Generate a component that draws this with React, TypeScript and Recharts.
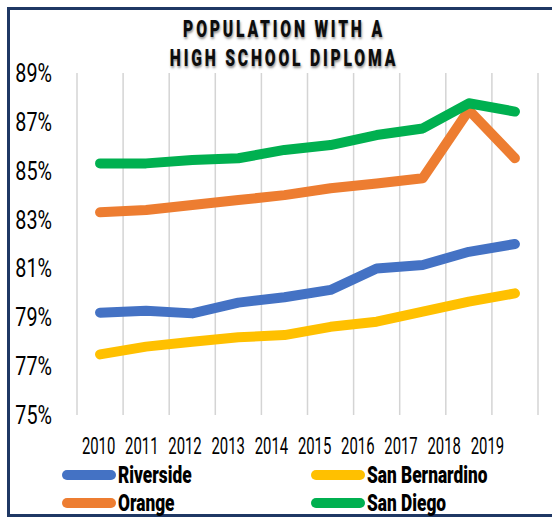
import React from 'react';
import { LineChart, Line, XAxis, YAxis, CartesianGrid, Legend } from 'recharts';

const years = ['2010', '2011', '2012', '2013', '2014', '2015', '2016', '2017', '2018', '2019'];
const riverside = [79.19, 79.27, 79.16, 79.6, 79.82, 80.12, 81.0, 81.14, 81.68, 82.0];
const orange = [83.3, 83.39, 83.6, 83.8, 84.0, 84.28, 84.48, 84.69, 87.48, 85.51];
const sanBernardino = [77.48, 77.8, 78.0, 78.18, 78.27, 78.61, 78.82, 79.23, 79.64, 79.98];
const sanDiego = [85.3, 85.3, 85.44, 85.51, 85.85, 86.05, 86.46, 86.73, 87.76, 87.42];
const yTicks = [75, 77, 79, 81, 83, 85, 87, 89];
const titleLines = ['POPULATION WITH A', 'HIGH SCHOOL DIPLOMA'];

const series = [
  { key: 'riverside', name: 'Riverside', color: '#4472C4', values: riverside },
  { key: 'orange', name: 'Orange', color: '#ED7D31', values: orange },
  { key: 'sanBernardino', name: 'San Bernardino', color: '#FFC000', values: sanBernardino },
  { key: 'sanDiego', name: 'San Diego', color: '#00B050', values: sanDiego },
];

const data = years.map((year, i) => {
  const row: Record<string, any> = { year };
  series.forEach((s) => {
    row[s.key] = s.values[i];
  });
  return row;
});

const FONT = "Roboto, 'DejaVu Sans Condensed', sans-serif";

const XTick = (props: any) => {
  const { x, y, payload } = props;
  return (
    <text
      transform={`translate(${x},${y + 17}) scale(0.62,1)`}
      textAnchor="middle"
      fontFamily={FONT}
      fontSize={24}
      fill="#000"
    >
      {payload.value}
    </text>
  );
};

const YTick = (props: any) => {
  const { x, y, payload } = props;
  return (
    <text
      transform={`translate(${x},${y + 9}) scale(0.76,1)`}
      textAnchor="end"
      fontFamily={FONT}
      fontSize={26}
      fill="#000"
    >
      {`${payload.value}%`}
    </text>
  );
};

const LegendContent = () => (
  <div
    style={{
      display: 'grid',
      gridTemplateRows: '28px 28px',
      gridTemplateColumns: '249px 200px',
      gridAutoFlow: 'column',
      paddingLeft: 62,
      fontFamily: FONT,
      fontWeight: 900,
      fontSize: 24,
      color: '#000',
    }}
  >
    {series.map((s) => (
      <div key={s.key} style={{ display: 'flex', alignItems: 'center', height: 28, whiteSpace: 'nowrap' }}>
        <span
          style={{
            display: 'inline-block',
            width: 54,
            height: 10,
            borderRadius: 5,
            background: s.color,
            marginRight: 2,
            flex: 'none',
          }}
        />
        <span style={{ display: 'inline-block', transform: 'scaleX(0.72)', transformOrigin: 'left center' }}>{s.name}</span>
      </div>
    ))}
  </div>
);

export default function App() {
  return (
    <div style={{ position: 'absolute', left: 0, top: 0, width: 552, height: 518, overflow: 'hidden', background: '#fff' }}>
      <div
        style={{
          position: 'absolute',
          left: 7,
          top: 7,
          width: 560,
          height: 504,
          border: '3px solid #1F3864',
          boxSizing: 'content-box',
        }}
      />
      <div
        style={{
          position: 'absolute',
          left: 84,
          width: 400,
          top: 14,
          textAlign: 'center',
          fontFamily: FONT,
          fontWeight: 900,
          fontSize: 24,
          lineHeight: '28.2px',
          letterSpacing: 4.3,
          color: '#0d0d0d',
          textShadow: '1px 2px 3px rgba(0,0,0,0.45)',
          transform: 'scale(0.653, 1.03)',
          transformOrigin: '200px 0',
          whiteSpace: 'nowrap',
          zIndex: 2,
        }}
      >
        {titleLines.map((t) => (
          <div key={t} style={{ height: 28.2 }}>{t}</div>
        ))}
      </div>
      <LineChart
        width={552}
        height={518}
        data={data}
        margin={{ top: 73, right: 14, left: 0, bottom: 63 }}
        style={{ position: 'absolute', left: 0, top: 0 }}
      >
        <CartesianGrid
          xAxisId="pts"
          horizontal={false}
          stroke="#D4D4D4"
          strokeWidth={1.5}
          verticalCoordinatesGenerator={({ offset }: any) =>
            Array.from({ length: years.length + 1 }, (_, i) => offset.left + (offset.width * i) / years.length)
          }
        />
        <XAxis xAxisId="pts" dataKey="year" scale="band" hide />
        <XAxis
          xAxisId="lbl"
          dataKey="year"
          scale="band"
          height={40}
          padding={{ left: 0, right: 29 }}
          axisLine={false}
          tickLine={false}
          tickSize={0}
          tickMargin={22}
          interval={0}
          tick={<XTick />}
        />
        <YAxis
          width={77}
          domain={[75, 89]}
          ticks={yTicks}
          interval={0}
          axisLine={false}
          tickLine={false}
          tickSize={0}
          tickMargin={25}
          tick={<YTick />}
        />
        <Legend
          layout="horizontal"
          verticalAlign="middle"
          align="center"
          wrapperStyle={{ top: 461, left: 0, width: 552 }}
          content={<LegendContent />}
        />
        {series.map((s) => (
          <Line
            key={s.key}
            xAxisId="pts"
            type="linear"
            dataKey={s.key}
            name={s.name}
            stroke={s.color}
            strokeWidth={10}
            strokeLinecap="round"
            strokeLinejoin="round"
            dot={false}
            activeDot={false}
            isAnimationActive={false}
          />
        ))}
      </LineChart>
    </div>
  );
}
